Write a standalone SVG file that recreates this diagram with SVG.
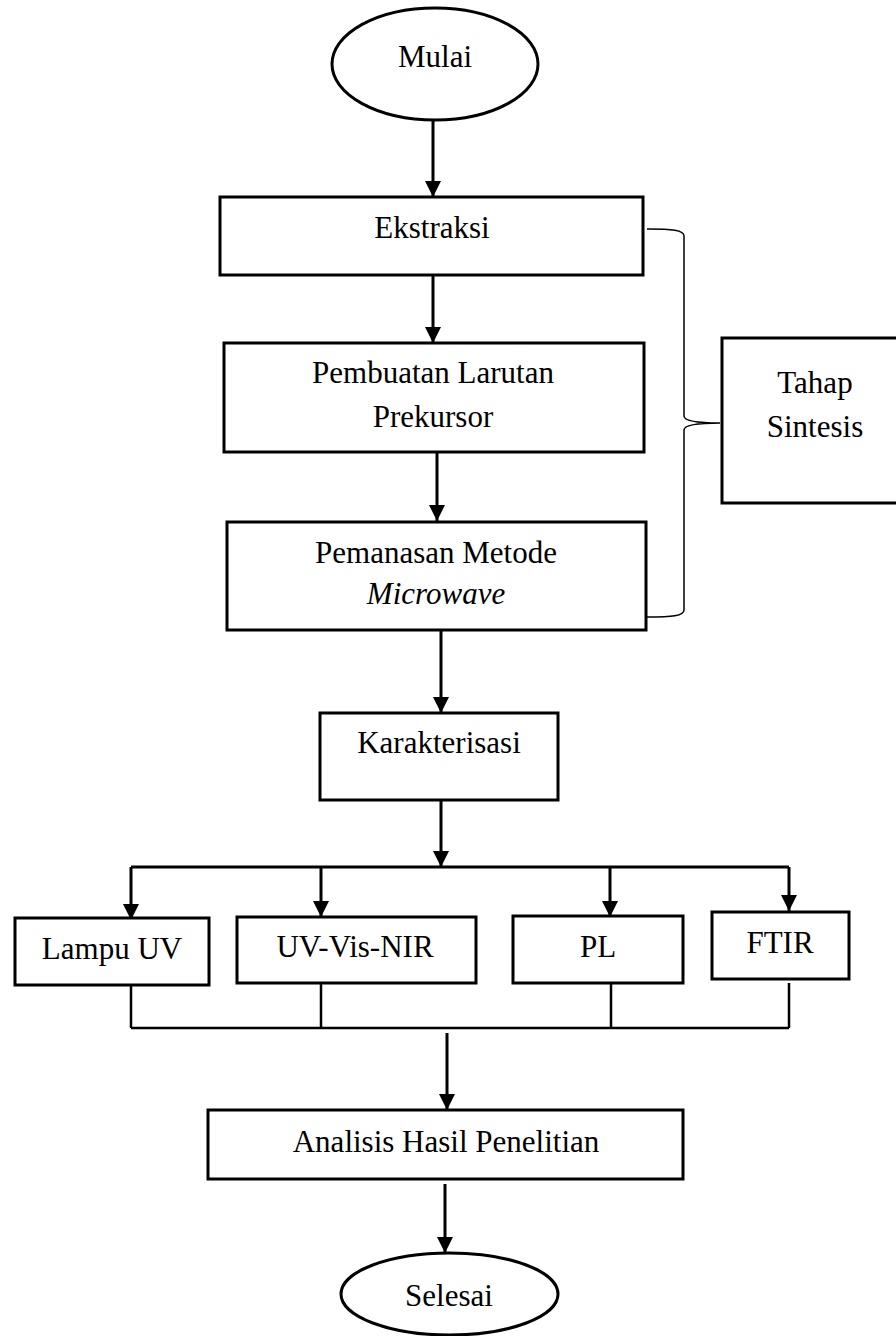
<svg xmlns="http://www.w3.org/2000/svg" width="896" height="1336" viewBox="0 0 896 1336">
<style>
  .box { fill: #fff; stroke: #000; stroke-width: 3; }
  .t { font-family: "Liberation Serif", "Times New Roman", serif; font-size: 31px; fill: #000; text-anchor: middle; }
  .it { font-style: italic; }
  .c { fill: none; stroke: #000; stroke-width: 3; }
  .thin { fill: none; stroke: #000; stroke-width: 1.5; }
</style>
<defs>
  <marker id="ah" markerUnits="userSpaceOnUse" markerWidth="16" markerHeight="16" refX="16" refY="8" orient="auto">
    <path d="M0,0 L16,8 L0,16 z" fill="#000"/>
  </marker>
</defs>
<rect width="896" height="1336" fill="#fff"/>

<g id="connectors">
  <path class="c" d="M433,120 V197" marker-end="url(#ah)"/>
  <path class="c" d="M433,275 V343" marker-end="url(#ah)"/>
  <path class="c" d="M437,452 V521" marker-end="url(#ah)"/>
  <path class="c" d="M441,630 V713" marker-end="url(#ah)"/>
  <path class="c" d="M441,800 V867" marker-end="url(#ah)"/>
  <path class="c" d="M131,867 H789"/>
  <path class="c" d="M131,867 V920" marker-end="url(#ah)"/>
  <path class="c" d="M321,867 V917" marker-end="url(#ah)"/>
  <path class="c" d="M610,867 V917" marker-end="url(#ah)"/>
  <path class="c" d="M789,867 V911" marker-end="url(#ah)"/>
  <path class="c" d="M131,985 V1028 M321,983 V1028 M611,983 V1028 M789,983 V1028 M131,1028 H789" style="stroke-width:2.5"/>
  <path class="c" d="M447,1033 V1110" marker-end="url(#ah)"/>
  <path class="c" d="M445,1184 V1253" marker-end="url(#ah)"/>
  <path class="thin" d="M647,229 C672,229 684,230 684,236 L684,416 C684,421 696,423 720,423 M720,423 C696,423 684,425 684,430 L684,610 C684,616 672,617 647,617"/>
</g>

<g id="mulai">
  <ellipse class="box" cx="435" cy="64" rx="103" ry="56"/>
  <text class="t" x="435" y="67">Mulai</text>
</g>
<g id="ekstraksi">
  <rect class="box" x="220" y="197" width="423" height="78"/>
  <text class="t" x="432" y="238">Ekstraksi</text>
</g>
<g id="pembuatan">
  <rect class="box" x="224" y="343" width="420" height="109"/>
  <text class="t" x="433" y="383">Pembuatan Larutan</text>
  <text class="t" x="433" y="427">Prekursor</text>
</g>
<g id="pemanasan">
  <rect class="box" x="227" y="522" width="419" height="108"/>
  <text class="t" x="436" y="563">Pemanasan Metode</text>
  <text class="t it" x="436" y="604">Microwave</text>
</g>
<g id="tahap-sintesis">
  <rect class="box" x="722" y="338" width="180" height="165"/>
  <text class="t" x="815" y="393">Tahap</text>
  <text class="t" x="815" y="437">Sintesis</text>
</g>
<g id="karakterisasi">
  <rect class="box" x="320" y="713" width="238" height="87"/>
  <text class="t" x="439" y="753">Karakterisasi</text>
</g>
<g id="lampu-uv">
  <rect class="box" x="15" y="918" width="194" height="67"/>
  <text class="t" x="112" y="959">Lampu UV</text>
</g>
<g id="uv-vis-nir">
  <rect class="box" x="237" y="917" width="239" height="66"/>
  <text class="t" x="355" y="957">UV-Vis-NIR</text>
</g>
<g id="pl">
  <rect class="box" x="513" y="916" width="170" height="67"/>
  <text class="t" x="598" y="957">PL</text>
</g>
<g id="ftir">
  <rect class="box" x="712" y="912" width="137" height="67"/>
  <text class="t" x="780" y="953">FTIR</text>
</g>
<g id="analisis">
  <rect class="box" x="208" y="1110" width="475" height="69"/>
  <text class="t" x="446" y="1152">Analisis Hasil Penelitian</text>
</g>
<g id="selesai">
  <ellipse class="box" cx="449.5" cy="1294" rx="108.5" ry="41"/>
  <text class="t" x="449" y="1306">Selesai</text>
</g>
</svg>
